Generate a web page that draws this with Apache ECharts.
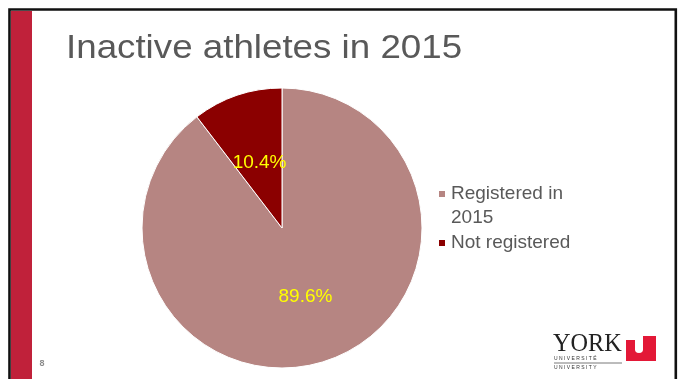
<!DOCTYPE html>
<html>
<head>
<meta charset="utf-8">
<script src="https://cdn.jsdelivr.net/npm/echarts@6/dist/echarts.min.js"></script>
<style>
html,body{margin:0;padding:0;background:#fff;}
#chart{width:683px;height:379px;}
</style>
</head>
<body>
<div id="chart"></div>
<script>
const titleText = 'Inactive athletes in 2015';
const categories = ['Registered in 2015', 'Not registered'];
const values = [89.6, 10.4];
const sliceColors = ['#B68582', '#8B0000'];
const pageNumber = '8';

const FONT = '"Liberation Sans", Arial, sans-serif';
const chart = echarts.init(document.getElementById('chart'), null, {renderer: 'canvas'});

const option = {
  backgroundColor: '#ffffff',
  animation: false,
  legend: {
    orient: 'vertical',
    left: 437,
    top: 158,
    padding: 0,
    itemWidth: 8,
    itemHeight: 8,
    itemGap: 1,
    icon: 'rect',
    selectedMode: false,
    textStyle: {fontSize: 19, color: '#595959', lineHeight: 24, fontFamily: FONT},
    data: categories,
    formatter: function (n) { return n === categories[0] ? '\nRegistered in\n2015' : n; }
  },
  series: [{
    type: 'pie',
    center: [282, 228],
    radius: 140,
    startAngle: 90,
    clockwise: true,
    silent: true,
    itemStyle: {borderColor: '#ffffff', borderWidth: 1},
    label: {
      show: true,
      position: 'inside',
      formatter: '{c}%',
      color: '#FFFF00',
      fontSize: 19,
      fontFamily: FONT
    },
    labelLine: {show: false},
    data: categories.map(function (c, i) {
      const d = {name: c, value: values[i], itemStyle: {color: sliceColors[i]}};
      if (i === 1) d.label = {offset: [1, 4]};
      return d;
    })
  }],
  graphic: [
    {type: 'polyline', shape: {points: [[9.5, 379], [9.5, 9.5], [675.8, 9.5], [675.8, 379]]},
     style: {stroke: '#111111', lineWidth: 2.6, fill: null}, silent: true},
    {type: 'rect', shape: {x: 11, y: 11, width: 21, height: 368}, style: {fill: '#C0213A'}, silent: true},
    {type: 'text', x: 66, y: 49.5, scaleX: 1.13, silent: true,
     style: {text: titleText, fontSize: 32.5, fontFamily: FONT, fill: '#595959', verticalAlign: 'middle', align: 'left'}},
    {type: 'text', x: 42, y: 364, silent: true,
     style: {text: pageNumber, fontSize: 9, fontWeight: 'bold', fontFamily: FONT, fill: '#8C8C8C', align: 'center', verticalAlign: 'middle'}},
    {type: 'text', x: 553, y: 344, scaleX: 0.97, silent: true,
     style: {text: 'YORK', fontSize: 25, fontFamily: '"Liberation Serif", "Times New Roman", serif', fill: '#222222', verticalAlign: 'middle', align: 'left'}},
    {type: 'text', x: 554, y: 358.5, silent: true,
     style: {text: 'U N I V E R S I T É', fontSize: 5, fontFamily: FONT, fill: '#333333', verticalAlign: 'middle', align: 'left'}},
    {type: 'line', shape: {x1: 554, y1: 363, x2: 622, y2: 363}, style: {stroke: '#555555', lineWidth: 0.8}, silent: true},
    {type: 'text', x: 554, y: 367.5, silent: true,
     style: {text: 'U N I V E R S I T Y', fontSize: 5, fontFamily: FONT, fill: '#333333', verticalAlign: 'middle', align: 'left'}},
    {type: 'polygon', silent: true,
     shape: {points: [[626, 340], [635, 340], [635, 350], [635.5, 351.5], [637, 352.7], [639, 353], [641, 352.7], [642.5, 351.5], [643, 350], [643, 336], [656, 336], [656, 361], [626, 361]]},
     style: {fill: '#E31837'}}
  ]
};
chart.setOption(option);
</script>
</body>
</html>
